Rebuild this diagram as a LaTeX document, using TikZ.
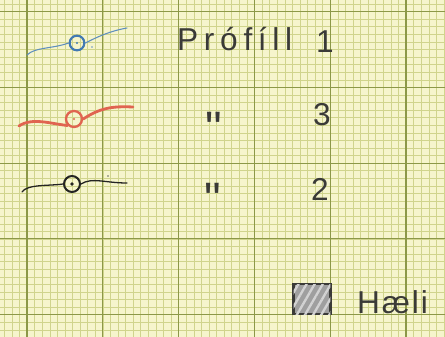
\documentclass[tikz,border=0pt]{standalone}
\usepackage{fontspec}
\setmainfont{Liberation Sans}[Ligatures=TeXOff]
\usepackage{xcolor}
\definecolor{paper}{RGB}{246,245,204}
\definecolor{gridMinor}{RGB}{208,212,140}
\definecolor{gridMajor}{RGB}{140,152,72}
\definecolor{pencil}{RGB}{58,58,55}
\definecolor{penBlue}{RGB}{66,122,178}
\definecolor{penRed}{RGB}{224,100,80}
\definecolor{penBlack}{RGB}{36,36,34}
\usetikzlibrary{patterns.meta}

\begin{document}
\begin{tikzpicture}[
				x=0.03cm, y=-0.03cm,
				minorline/.style={gridMinor, line width=0.35pt},
				majorline/.style={gridMajor, line width=1pt},
				handtext/.style={pencil, inner sep=0pt, font=\fontsize{27}{30}\selectfont},
				locmark/.style={circle, draw, inner sep=0pt, minimum size=0.46cm}
			]
				% graph paper
				\useasboundingbox (0,0) rectangle (445,337);
				\fill[paper] (0,0) rectangle (445,337);
				\foreach \i in {-3,...,55}
					\draw[minorline] ({27+7.58*\i},0) -- ({27+7.58*\i},337);
				\foreach \i in {-1,...,43}
					\draw[minorline] (0,{11.5+7.58*\i}) -- (445,{11.5+7.58*\i});
				\foreach \i in {0,...,5}
					\draw[majorline] ({27+75.8*\i},0) -- ({27+75.8*\i},337);
				\foreach \i in {0,...,4}
					\draw[majorline] (0,{11.5+75.8*\i}) -- (445,{11.5+75.8*\i});

				% profile 1 (blue)
				\coordinate (b1) at (27,55);
				\coordinate (b2) at (127,28);
				\node[locmark, penBlue, line width=1.8pt, minimum size=0.44cm] (bluept) at (77,43) {};
				\fill[penBlue] (bluept.center) circle (1.2);
				\fill[penBlue!80] (92,47) circle (0.9);
				\draw[penBlue!85, line width=0.9pt, line cap=round] (b1) .. controls (35,47) and (52,49) .. (bluept.west);
				\draw[penBlue!85, line width=0.9pt, line cap=round] (bluept.east) .. controls (97,37) and (110,31) .. (b2);

				% profile 3 (red)
				\coordinate (r1) at (19,126);
				\coordinate (r2) at (133,107);
				\node[locmark, penRed, line width=2pt, minimum size=0.48cm] (redpt) at (74,119) {};
				\fill[penRed] (redpt.center) circle (1.2);
				\draw[penRed, line width=2.4pt, line cap=round] (r1) .. controls (32,117) and (52,124) .. (redpt.south west);
				\draw[penRed, line width=2.4pt, line cap=round] (redpt.east) .. controls (100,108) and (112,106) .. (r2);

				% profile 2 (black)
				\coordinate (k1) at (22,192);
				\coordinate (k2) at (127,183);
				\node[locmark, penBlack, line width=1.7pt, minimum size=0.48cm] (blackpt) at (72,184) {};
				\fill[penBlack] (blackpt.center) circle (1.8);
				\fill[penBlack!70] (108,176) circle (0.9);
				\draw[penBlack, line width=1.1pt, line cap=round] (k1) .. controls (27,184) and (50,186) .. (blackpt.west);
				\draw[penBlack, line width=1.1pt, line cap=round] (blackpt.east) .. controls (92,177) and (105,183) .. (k2);

				% labels
				\node[handtext, anchor=base west, font=\fontsize{27}{30}\selectfont\addfontfeature{LetterSpace=18}] (prof) at (177,50) {Prófíll};
				\node[handtext, anchor=base] (n1) at (325,53) {1};
				\node[handtext, anchor=base] (ditto3) at (214,144) {\fontsize{40}{40}\selectfont\symbol{34}};
				\node[handtext, anchor=base] (n3) at (322,125) {3};
				\node[handtext, anchor=base] (ditto2) at (213,215) {\fontsize{40}{40}\selectfont\symbol{34}};
				\node[handtext, anchor=base] (n2) at (320,200) {2};

				% legend
				\node[draw=pencil, line width=2pt, fill=gray!75, minimum width=1.1cm, minimum height=0.9cm,
				      inner sep=0pt, postaction={pattern={Lines[angle=60, distance=6pt, line width=2pt]}, pattern color=gray!35}]
				     (haeli) at (312,299) {};
				\node[handtext, anchor=base west, font=\fontsize{27}{30}\selectfont\addfontfeature{LetterSpace=6}] (haelilab) at (357,313) {Hæli};
			\end{tikzpicture}
\end{document}
